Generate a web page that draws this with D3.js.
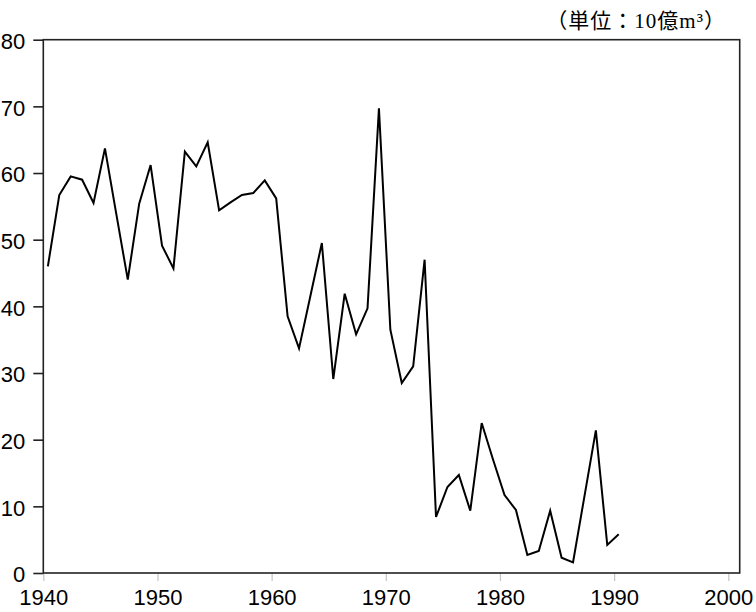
<!DOCTYPE html>
<html>
<head>
<meta charset="utf-8">
<script src="https://cdn.jsdelivr.net/npm/d3@7/dist/d3.min.js"></script>
<style>
  html, body { margin: 0; padding: 0; background: #fff; }
  svg { display: block; }
</style>
</head>
<body>
<svg id="chart" width="756" height="612"></svg>
<script>
const years = d3.range(1940, 1991);
const values = [
  46.0, 56.7, 59.5, 59.0, 55.5, 63.7, 53.8, 44.0, 55.4, 61.2,
  49.1, 45.7, 63.2, 61.0, 64.6, 54.4, 55.6, 56.7, 57.0, 58.9,
  56.2, 38.5, 33.7, 41.6, 49.5, 29.1, 41.9, 35.8, 39.7, 69.7,
  36.5, 28.5, 31.0, 47.0, 8.4, 12.9, 14.7, 9.35, 22.5, 17.0,
  11.7, 9.45, 2.7, 3.3, 9.35, 2.3, 1.6, 11.5, 21.4, 4.2,
  5.8
];
const xTicks = [1940, 1950, 1960, 1970, 1980, 1990, 2000];
const yTicks = [0, 10, 20, 30, 40, 50, 60, 70, 80];
const unitLabel = "（単位：10億m³）";

const data = years.map((y, i) => ({ year: y, value: values[i] }));

const margin = { left: 43.3, right: 16.3, top: 39.7, bottom: 39 };
const W = 756, H = 612;
const svg = d3.select("#chart");

const x = d3.scaleLinear().domain([1940, 2001]).range([margin.left, W - margin.right]);
const y = d3.scaleLinear().domain([0, 80]).range([H - margin.bottom, margin.top]);

// data points sit slightly inside each year
const yearPos = 0.4;

// x axis ticks (light grey, downward)
const xAxis = svg.append("g")
  .attr("transform", `translate(0,${y(0)})`)
  .call(d3.axisBottom(x).tickValues(xTicks).tickFormat(d3.format("d")).tickSize(8).tickPadding(8));
xAxis.select(".domain").remove();
xAxis.selectAll(".tick line").attr("stroke", "#c4c4c4").attr("stroke-width", 1.2);
xAxis.selectAll(".tick text")
  .attr("fill", "#000")
  .style("font-family", "'Liberation Sans', Arial, sans-serif")
  .style("font-size", "22px");

// y axis
const yAxis = svg.append("g")
  .attr("transform", `translate(${x(1940)},0)`)
  .call(d3.axisLeft(y).tickValues(yTicks).tickSize(10).tickPadding(8));
yAxis.select(".domain").remove();
yAxis.selectAll(".tick line").attr("stroke", "#222").attr("stroke-width", 1.6);
yAxis.selectAll(".tick text")
  .attr("fill", "#000")
  .attr("dy", "0.4em")
  .style("font-family", "'Liberation Sans', Arial, sans-serif")
  .style("font-size", "22px");

// frame
svg.append("rect")
  .attr("x", x(1940))
  .attr("y", y(80))
  .attr("width", x(2001) - x(1940))
  .attr("height", y(0) - y(80))
  .attr("fill", "none")
  .attr("stroke", "#222")
  .attr("stroke-width", 1.6);

// line
const line = d3.line()
  .x(d => x(d.year + yearPos))
  .y(d => y(d.value));

svg.append("path")
  .datum(data)
  .attr("fill", "none")
  .attr("stroke", "#000")
  .attr("stroke-width", 2)
  .attr("stroke-linejoin", "miter")
  .attr("d", line);

// unit label
svg.append("text")
  .attr("x", 726)
  .attr("y", 28)
  .attr("text-anchor", "end")
  .style("font-family", "'Liberation Serif', 'Noto Sans CJK JP', serif")
  .style("font-size", "21px")
  .style("letter-spacing", "1px")
  .attr("fill", "#000")
  .text(unitLabel);
</script>
</body>
</html>
